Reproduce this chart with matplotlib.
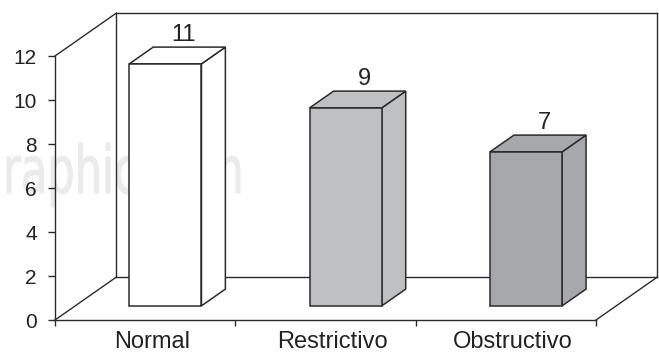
import matplotlib
matplotlib.use('Agg')
import matplotlib.pyplot as plt
from matplotlib.patches import Polygon, PathPatch
from matplotlib.textpath import TextPath
from matplotlib.font_manager import FontProperties
from matplotlib.transforms import Affine2D

plt.rcParams['font.family'] = ['Liberation Sans', 'DejaVu Sans']

categories = ['Normal', 'Restrictivo', 'Obstructivo']
counts = [11, 9, 7]
bar_colors = ['#ffffff', '#bfc0c1', '#a7a8ab']
y_ticks = [0, 2, 4, 6, 8, 10, 12]

EDGE = '#2b2b2b'
DX, DY = 0.34, 1.95        # depth offset of the floor / walls, in data units
F0, F1 = 0.33, 0.72        # front and back of each bar as a fraction of depth
WIDTH = 0.4

fig = plt.figure(figsize=(6.59, 3.52), dpi=100)
ax = fig.add_axes([55 / 659, 32 / 352, 541 / 659, 264 / 352])
ax.set_facecolor('none')
ax.set_xlim(0, 3)
ax.set_ylim(0, 12)

# faint watermark behind the chart
prop = FontProperties(family='DejaVu Sans')
tp = TextPath((0, 0), 'medigraphic.com', size=1, prop=prop)
pre = TextPath((0, 0), 'medig', size=1, prop=prop)
w_full = tp.get_extents().x1
w_pre = pre.get_extents().x1 + 0.02
sx = 240 / (w_full - w_pre)
sy = 50 / 0.76
wm = PathPatch(tp, facecolor='#ebebeb', edgecolor='#ebebeb', lw=0.8, zorder=-1)
wm.set_transform(Affine2D().scale(sx, sy).translate(240 - w_full * sx, 352 - 193))
fig.add_artist(wm)


def seg(x, y):
    ax.plot(x, y, color=EDGE, lw=1.0, clip_on=False, zorder=1,
            solid_capstyle='projecting')


# walls and floor
seg([0, DX], [12, 12 + DY])
seg([0, DX], [0, DY])
seg([DX, DX], [DY, 12 + DY])
seg([DX, 3 + DX], [12 + DY, 12 + DY])
seg([3 + DX, 3 + DX], [DY, 12 + DY])
seg([DX, 3 + DX], [DY, DY])
seg([3, 3 + DX], [0, DY])


def box(xc, h, color):
    x0 = xc - WIDTH / 2 + F0 * DX
    x1 = xc + WIDTH / 2 + F0 * DX
    y0 = F0 * DY
    y1 = h + F0 * DY
    ddx = (F1 - F0) * DX
    ddy = (F1 - F0) * DY
    faces = [
        [(x1, y0), (x1 + ddx, y0 + ddy), (x1 + ddx, y1 + ddy), (x1, y1)],
        [(x0, y1), (x1, y1), (x1 + ddx, y1 + ddy), (x0 + ddx, y1 + ddy)],
        [(x0, y0), (x1, y0), (x1, y1), (x0, y1)],
    ]
    for f in faces:
        ax.add_patch(Polygon(f, closed=True, facecolor=color, edgecolor=EDGE,
                             lw=1.1, joinstyle='miter', clip_on=False, zorder=3))


for i, (v, c) in enumerate(zip(counts, bar_colors)):
    box(i + 0.5, v, c)
    ax.text(i + 0.5 + 0.63 * DX, v + F1 * DY + 0.28, str(v), ha='center',
            va='baseline', fontsize=17, color='#222222', clip_on=False)

for side in ['top', 'right']:
    ax.spines[side].set_visible(False)
for side in ['left', 'bottom']:
    ax.spines[side].set_color(EDGE)
    ax.spines[side].set_linewidth(1.0)
    ax.spines[side].set_zorder(2)

ax.set_yticks(y_ticks)
ax.tick_params(axis='y', direction='out', length=5, width=1.0, color=EDGE,
               labelsize=15, pad=8, labelcolor='#222222')
ax.set_xticks([0, 1, 2, 3])
ax.set_xticklabels([])
ax.set_xticks([i + 0.54 for i in range(len(categories))], minor=True)
ax.set_xticklabels(categories, minor=True)
ax.tick_params(axis='x', which='major', direction='out', length=4.5,
               width=1.0, color=EDGE)
ax.tick_params(axis='x', which='minor', length=0, labelsize=17, pad=8,
               labelcolor='#222222')

fig.savefig('out.png', dpi=100)
